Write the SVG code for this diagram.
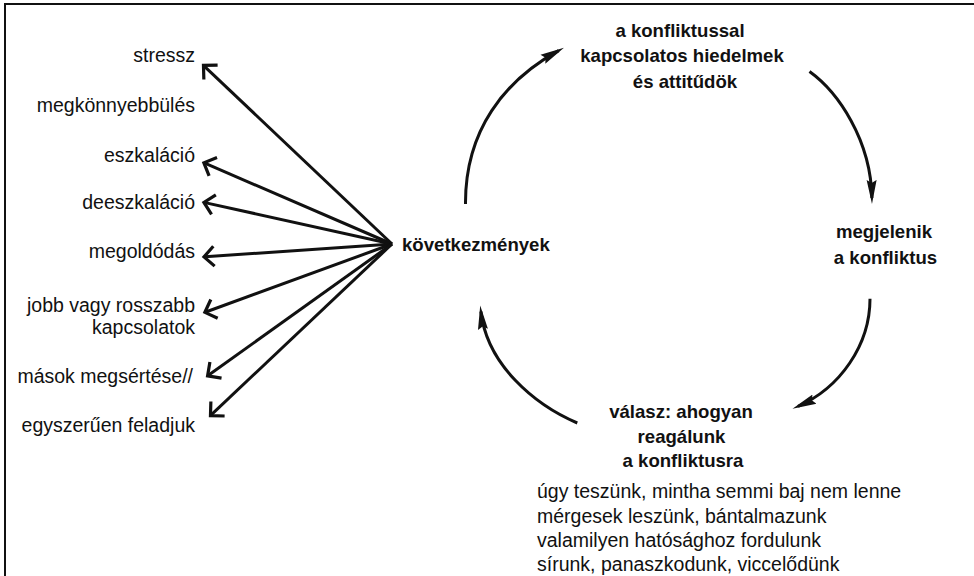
<svg xmlns="http://www.w3.org/2000/svg" width="974" height="576" viewBox="0 0 974 576">
<style>
.t{font-family:"Liberation Sans",Arial,sans-serif;font-size:19.5px;fill:#111}
.b{font-family:"Liberation Sans",Arial,sans-serif;font-size:18.6px;font-weight:bold;fill:#111}
.r{text-anchor:end}
.c{text-anchor:middle}
.ln{fill:none;stroke:#111;stroke-width:3}
</style>
<defs>
<marker id="chev" markerUnits="userSpaceOnUse" viewBox="0 -12 18 24" refX="11" refY="0" markerWidth="18" markerHeight="24" orient="auto">
<path d="M2,-10 L12,0 L2,10" fill="none" stroke="#111" stroke-width="3.2" stroke-linejoin="miter"/>
</marker>
<marker id="head" markerUnits="userSpaceOnUse" viewBox="0 -6 26 12" refX="18" refY="0" markerWidth="26" markerHeight="12" orient="auto">
<path d="M24,0 L0,-5 L3,0 L0,5 Z" fill="#111"/>
</marker>
</defs>
<rect width="974" height="576" fill="#fff"/>
<path d="M5,576 V4 H974" fill="none" stroke="#111" stroke-width="2"/>

<g id="stressz"><text class="t r" x="195" y="62">stressz</text></g>
<g id="megkonnyebbules"><text class="t r" x="195" y="112">megkönnyebbülés</text></g>
<g id="eszkalacio"><text class="t r" x="195" y="162">eszkaláció</text></g>
<g id="deeszkalacio"><text class="t r" x="195" y="209">deeszkaláció</text></g>
<g id="megoldodas"><text class="t r" x="195" y="258">megoldódás</text></g>
<g id="jobb"><text class="t r" x="195" y="312">jobb vagy rosszabb</text><text class="t r" x="195" y="334">kapcsolatok</text></g>
<g id="masok"><text class="t r" x="193" y="383">mások megsértése//</text></g>
<g id="egyszeruen"><text class="t r" x="195" y="432">egyszerűen feladjuk</text></g>

<g id="kovetkezmenyek"><text class="b" x="402" y="251">következmények</text></g>
<g id="hiedelmek"><text class="b c" x="680" y="37">a konfliktussal</text><text class="b c" x="682" y="62">kapcsolatos hiedelmek</text><text class="b c" x="685" y="88">és attitűdök</text></g>
<g id="megjelenik"><text class="b c" x="884" y="238">megjelenik</text><text class="b c" x="885.5" y="263.5">a konfliktus</text></g>
<g id="valasz"><text class="b c" x="681" y="418">válasz: ahogyan</text><text class="b c" x="681.5" y="443">reagálunk</text><text class="b c" x="683" y="467">a konfliktusra</text></g>
<g id="reakciok"><text class="t" x="537" y="498">úgy teszünk, mintha semmi baj nem lenne</text><text class="t" x="537" y="522.5">mérgesek leszünk, bántalmazunk</text><text class="t" x="537" y="547">valamilyen hatósághoz fordulunk</text><text class="t" x="537" y="571">sírunk, panaszkodunk, viccelődünk</text></g>

<g id="connectors">
<path class="ln" marker-end="url(#chev)" d="M392,244 L204.2,66.1"/>
<path class="ln" marker-end="url(#chev)" d="M392,244 L204.8,163.2"/>
<path class="ln" marker-end="url(#chev)" d="M392,244 L204.9,202.6"/>
<path class="ln" marker-end="url(#chev)" d="M392,244 L205,256.8"/>
<path class="ln" marker-end="url(#chev)" d="M392,244 L205.8,312"/>
<path class="ln" marker-end="url(#chev)" d="M392,244 L208.4,375.3"/>
<path class="ln" marker-end="url(#chev)" d="M392,244 L211.2,414.9"/>
<path class="ln" marker-end="url(#head)" d="M465.5,204 C465,130 505,80 558.7,50.6"/>
<path class="ln" marker-end="url(#head)" d="M809.5,71.5 C838,92 871,140 871.9,198"/>
<path class="ln" marker-end="url(#head)" d="M870,298.7 C870,345 840,388 798,406.3"/>
<path class="ln" marker-end="url(#head)" d="M577.3,423 C535,405 487,365 480.9,311.5"/>
</g>
</svg>
